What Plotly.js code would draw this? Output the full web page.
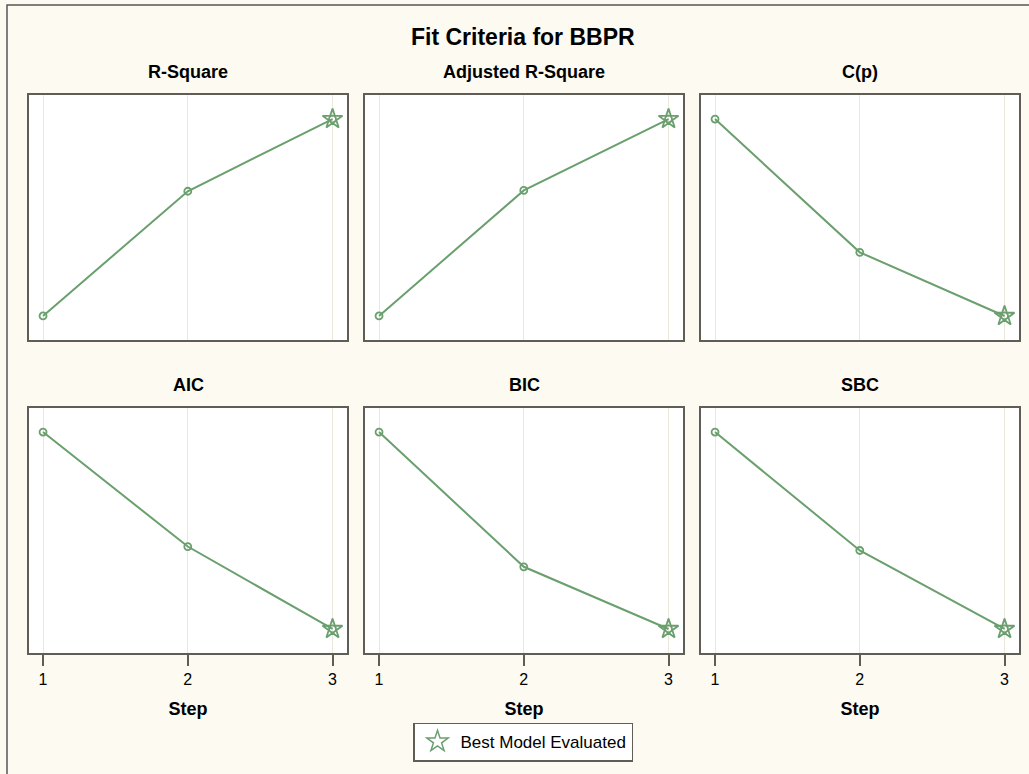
<!DOCTYPE html>
<html>
<head>
<meta charset="utf-8">
<script src="https://cdn.plot.ly/plotly-3.0.1.min.js"></script>
<style>html,body{margin:0;padding:0;background:#fdfaf2;}</style>
</head>
<body>
<div id="chart" style="width:1029px;height:774px;"></div>
<script>
// ---- data ----
const steps = [1, 2, 3];
const criteriaNames = ["R-Square", "Adjusted R-Square", "C(p)", "AIC", "BIC", "SBC"];
const rSquare = [0.31, 0.50, 0.61];
const adjRSquare = [0.29, 0.48, 0.588];
const cp = [60, 22.1, 4];
const aic = [-120, -160.7, -190];
const bic = [-118, -165.9, -188];
const sbc = [-117, -159.1, -187];
const bestStep = [3, 3, 3, 3, 3, 3];
const tickLabels = ["1", "2", "3"];
const chartTitle = "Fit Criteria for BBPR";
const xLabel = "Step";
const legendLabel = "Best Model Evaluated";

const series = [rSquare, adjRSquare, cp, aic, bic, sbc];

// ---- layout geometry (pixels) ----
const W = 1029, H = 774;
const colX = [[29, 347], [365, 683], [701, 1019]];
const rowY = [[95, 340], [408, 653]];
const px = x => x / W;
const py = y => 1 - y / H;

const lineColor = "#6a9f6e";
const frameColor = "#5f5d55";
const font = "Liberation Sans, Arial, sans-serif";

const traces = [];
const layout = {
  width: W, height: H,
  margin: {l: 0, r: 0, t: 0, b: 0},
  paper_bgcolor: "#fdfaf2",
  plot_bgcolor: "#ffffff",
  font: {family: font, size: 12, color: "#000"},
  showlegend: true,
  legend: {
    x: px(523), y: py(742), xanchor: "center", yanchor: "middle",
    bgcolor: "#ffffff", bordercolor: frameColor, borderwidth: 1.5,
    font: {family: font, size: 17, color: "#000"},
    itemsizing: "trace", itemwidth: 36
  },
  annotations: [],
  shapes: [
    {type: "rect", xref: "paper", yref: "paper", x0: px(7), x1: px(1040), y0: py(5), y1: py(790),
     line: {color: "#555", width: 1.5}, fillcolor: "rgba(0,0,0,0)", layer: "below"}
  ]
};

layout.annotations.push({
  text: "<b>" + chartTitle + "</b>", xref: "paper", yref: "paper",
  x: px(523), y: py(37), xanchor: "center", yanchor: "middle",
  showarrow: false, font: {family: font, size: 23, color: "#000"}
});

for (let i = 0; i < 6; i++) {
  const r = Math.floor(i / 3), c = i % 3;
  const idx = i + 1;
  const xa = "x" + (idx === 1 ? "" : idx), ya = "y" + (idx === 1 ? "" : idx);
  const xk = "xaxis" + (idx === 1 ? "" : idx), yk = "yaxis" + (idx === 1 ? "" : idx);
  const vals = series[i];
  const mn = Math.min(...vals), mx = Math.max(...vals), span = mx - mn;
  const pad = span * 0.122;

  layout[xk] = {
    domain: [px(colX[c][0]), px(colX[c][1])],
    anchor: ya,
    range: [0.903, 3.1],
    tickmode: "array", tickvals: steps, ticktext: tickLabels,
    showticklabels: r === 1,
    ticks: r === 1 ? "outside" : "", ticklen: 11, tickwidth: 2, tickcolor: frameColor,
    showgrid: true, gridcolor: "#ebe8da", gridwidth: 1,
    zeroline: false,
    showline: true, linecolor: frameColor, linewidth: 2, mirror: true,
    tickfont: {family: font, size: 16, color: "#000"},
    title: r === 1 ? {text: "<b>" + xLabel + "</b>", font: {family: font, size: 18, color: "#000"}, standoff: 15} : {text: ""},
    fixedrange: true
  };
  layout[yk] = {
    domain: [py(rowY[r][1]), py(rowY[r][0])],
    anchor: xa,
    range: [mn - pad, mx + pad],
    showticklabels: false, ticks: "", showgrid: false, zeroline: false,
    showline: true, linecolor: frameColor, linewidth: 2, mirror: true,
    fixedrange: true
  };

  layout.annotations.push({
    text: "<b>" + criteriaNames[i] + "</b>", xref: "paper", yref: "paper",
    x: px((colX[c][0] + colX[c][1]) / 2), y: py(rowY[r][0] - 23),
    xanchor: "center", yanchor: "middle", showarrow: false,
    font: {family: font, size: 18, color: "#000"}
  });

  traces.push({
    type: "scatter", mode: "lines+markers",
    x: steps, y: vals, xaxis: xa, yaxis: ya,
    line: {color: lineColor, width: 2},
    marker: {symbol: "circle-open", size: 7, color: lineColor, line: {width: 1.8, color: lineColor}},
    showlegend: false, hoverinfo: "x+y"
  });

  const bIdx = steps.indexOf(bestStep[i]);
  traces.push({
    type: "scatter", mode: "markers",
    x: [steps[bIdx]], y: [vals[bIdx]], xaxis: xa, yaxis: ya,
    name: legendLabel,
    marker: {symbol: "star-open", size: 15, color: lineColor, line: {width: 1.8, color: lineColor}},
    showlegend: false, hoverinfo: "x+y"
  });
}

// legend-only entry (no visible points)
traces.push({
  type: "scatter", mode: "markers",
  x: [null], y: [null], xaxis: "x", yaxis: "y",
  name: legendLabel,
  marker: {symbol: "star-open", size: 24, color: lineColor, line: {width: 1.5, color: lineColor}},
  showlegend: true, hoverinfo: "skip"
});

Plotly.newPlot("chart", traces, layout, {displayModeBar: false, staticPlot: true});
</script>
</body>
</html>
